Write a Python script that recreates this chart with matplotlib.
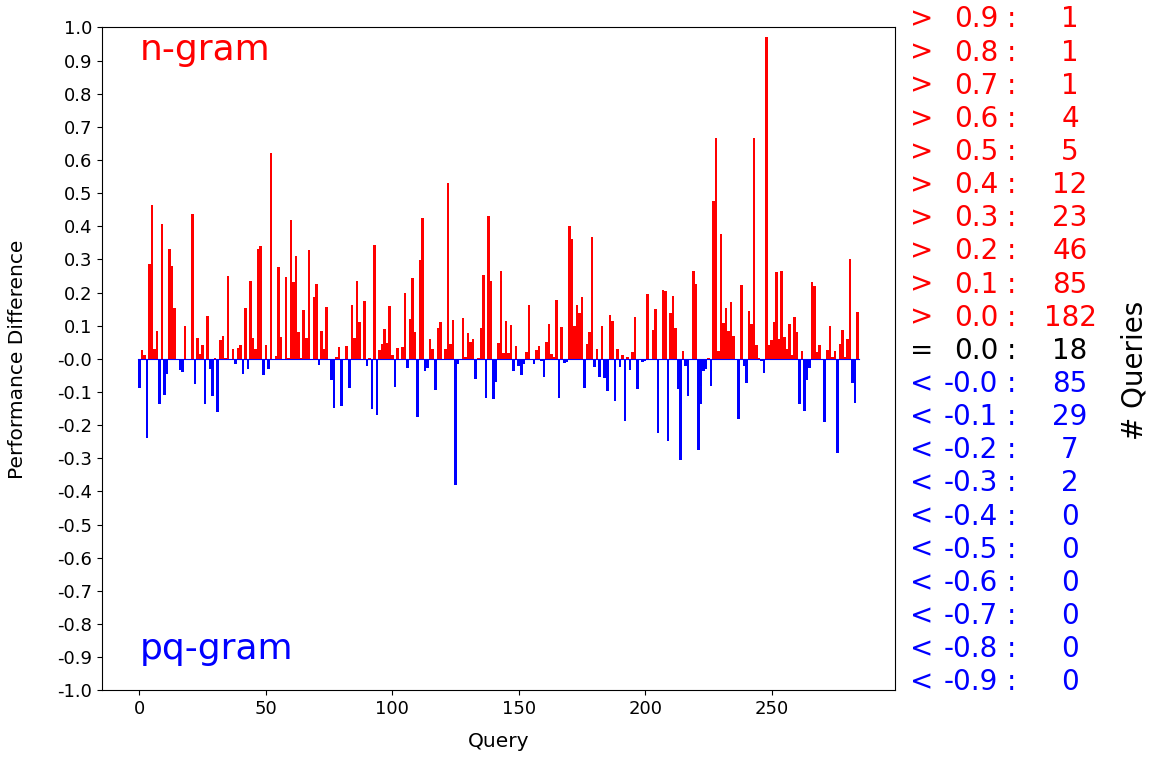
import numpy as np
import matplotlib
matplotlib.use("Agg")
import matplotlib.pyplot as plt
from matplotlib.transforms import blended_transform_factory

# performance difference (n-gram minus pq-gram) per query
diff = [
    -0.089, 0.028, 0.013, -0.240, 0.285, 0.463, 0.031, 0.083, -0.137, 0.406,
    -0.110, -0.046, 0.333, 0.279, 0.152, 0.0, -0.034, -0.040, 0.098, 0.0,
    0.0, 0.436, -0.075, 0.064, 0.016, 0.043, -0.137, 0.128, -0.032, -0.113,
    0.004, -0.161, 0.058, 0.070, 0.003, 0.249, 0.0, 0.031, -0.016, 0.034,
    0.043, -0.046, 0.152, -0.031, 0.234, 0.064, 0.031, 0.333, 0.340, -0.049,
    0.043, -0.031, 0.620, 0.0, 0.010, 0.276, 0.067, 0.0, 0.246, 0.004,
    0.418, 0.231, 0.309, 0.080, 0.003, 0.146, 0.064, 0.327, 0.0, 0.188,
    0.225, -0.017, 0.083, 0.031, 0.158, 0.0, -0.064, -0.149, 0.007, 0.037,
    -0.143, 0.0, 0.040, -0.089, 0.164, 0.064, 0.234, 0.110, 0.0, 0.176,
    -0.022, 0.004, -0.152, 0.345, -0.170, 0.028, 0.046, 0.089, 0.049, 0.161,
    0.013, -0.086, 0.034, 0.0, 0.037, 0.200, -0.028, 0.119, 0.243, 0.080,
    -0.176, 0.297, 0.424, -0.037, -0.028, 0.061, 0.031, -0.095, 0.092, 0.110,
    0.0, 0.031, 0.530, 0.046, 0.116, -0.382, -0.016, 0.0, 0.122, 0.007,
    0.077, 0.052, 0.061, -0.061, 0.003, 0.092, 0.252, -0.119, 0.430, 0.234,
    -0.122, -0.070, 0.049, 0.264, 0.019, 0.113, 0.019, 0.101, -0.037, 0.040,
    -0.022, -0.049, -0.016, 0.022, 0.164, 0.0, -0.016, 0.028, 0.040, -0.007,
    -0.055, 0.052, 0.104, 0.016, 0.007, 0.179, -0.119, 0.095, -0.013, -0.010,
    0.400, 0.361, 0.098, 0.164, 0.137, 0.188, -0.089, 0.046, 0.080, 0.367,
    -0.025, 0.031, -0.055, 0.098, -0.058, -0.098, 0.131, 0.113, -0.128, 0.031,
    -0.025, 0.013, -0.188, 0.007, -0.034, 0.022, 0.125, -0.092, 0.0, -0.010,
    -0.007, 0.197, -0.004, 0.086, 0.149, -0.225, 0.0, 0.209, 0.206, -0.249,
    0.137, 0.191, 0.092, -0.092, -0.306, 0.025, -0.022, -0.113, 0.0, 0.264,
    0.225, -0.276, -0.137, -0.037, -0.031, 0.003, -0.083, 0.475, 0.667, 0.025,
    0.376, 0.107, 0.155, 0.083, 0.173, 0.070, 0.0, -0.182, 0.222, -0.022,
    -0.074, 0.143, 0.104, 0.667, 0.043, 0.004, -0.007, -0.043, 0.970, 0.043,
    0.058, 0.110, 0.261, 0.061, 0.264, 0.067, 0.031, 0.104, 0.013, 0.125,
    0.080, -0.137, 0.025, -0.158, -0.064, -0.028, 0.231, 0.219, 0.022, 0.043,
    0.0, -0.191, 0.028, 0.098, 0.007, 0.025, -0.285, 0.046, 0.086, 0.007,
    0.061, 0.302, -0.074, -0.134, 0.140,
]

# summary table on the right
sum_signs = ['>'] * 10 + ['='] + ['<'] * 10
sum_thresh = ['0.9', '0.8', '0.7', '0.6', '0.5', '0.4', '0.3', '0.2', '0.1', '0.0',
              '0.0',
              '-0.0', '-0.1', '-0.2', '-0.3', '-0.4', '-0.5', '-0.6', '-0.7', '-0.8', '-0.9']
sum_counts = [1, 1, 1, 4, 5, 12, 23, 46, 85, 182,
              18,
              85, 29, 7, 2, 0, 0, 0, 0, 0, 0]

diff = np.array(diff)
x = np.arange(len(diff))
pos = np.where(diff > 0, diff, 0)
neg = np.where(diff < 0, diff, 0)

fig = plt.figure(figsize=(11.57, 7.58), dpi=100)
ax = fig.add_axes([0.0882, 0.0893, 0.6853, 0.8745])

ax.bar(x, pos, width=1.0, color='red', linewidth=0)
ax.bar(x, neg, width=1.0, color='blue', linewidth=0)
ax.plot([-0.5, len(diff) - 0.5], [0, 0], color='blue', lw=0.8)

ax.set_ylim(-1, 1)
ax.set_xlim(-14.75, 298.75)
ax.set_yticks(np.arange(-1.0, 1.01, 0.1))
ax.set_yticklabels(['%.1f' % v for v in np.arange(-1.0, 1.01, 0.1)])
ax.set_xticks([0, 50, 100, 150, 200, 250])
ax.tick_params(labelsize=13)
ax.set_xlabel('Query', fontsize=14.5, labelpad=10)
ax.set_ylabel('Performance Difference', fontsize=14.5, labelpad=22)

ax.text(0.047, 0.991, 'n-gram', transform=ax.transAxes, color='red', fontsize=26, va='top')
ax.text(0.047, 0.037, 'pq-gram', transform=ax.transAxes, color='blue', fontsize=26, va='bottom')

tr = blended_transform_factory(fig.transFigure, ax.transData)
for i in range(len(sum_signs)):
    yy = 1.0 - 0.1 * i
    c = 'red' if sum_signs[i] == '>' else ('black' if sum_signs[i] == '=' else 'blue')
    ax.text(910 / 1157, yy, sum_signs[i], transform=tr, color=c, fontsize=20, va='baseline', ha='left')
    ax.text(998 / 1157, yy, sum_thresh[i], transform=tr, color=c, fontsize=20, va='baseline', ha='right')
    ax.text(1007 / 1157, yy, ':', transform=tr, color=c, fontsize=20, va='baseline', ha='left')
    ax.text(1070 / 1157, yy, str(sum_counts[i]), transform=tr, color=c, fontsize=20, va='baseline', ha='center')

fig.text(1135 / 1157, 1 - 370 / 758, '# Queries', rotation=90, fontsize=20, va='center', ha='center')

fig.savefig('out.png', dpi=100)
